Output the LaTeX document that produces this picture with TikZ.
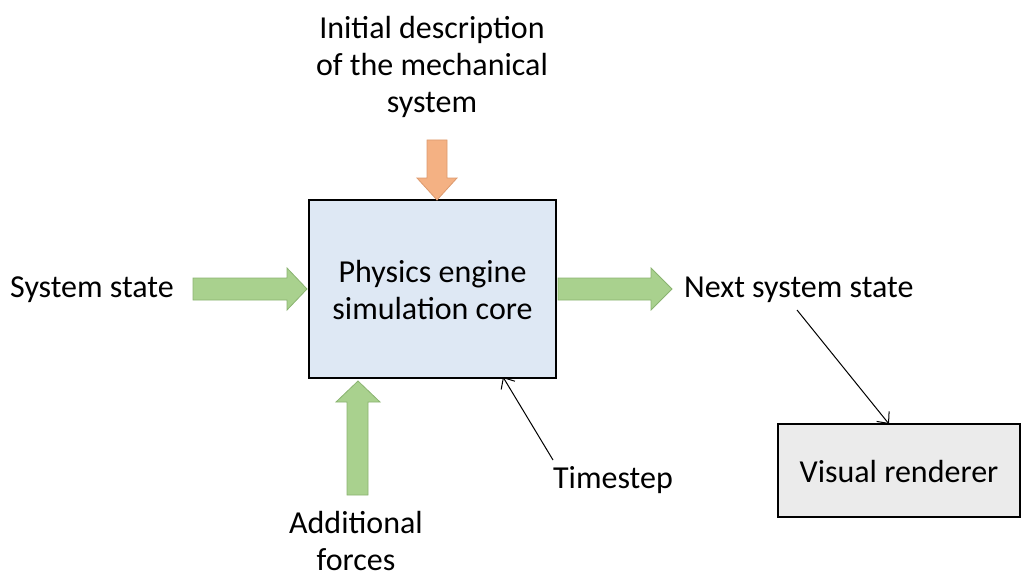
\documentclass[tikz,border=0pt]{standalone}
\usepackage{fontspec}
\setmainfont{Carlito}
\usetikzlibrary{arrows.meta}
\definecolor{boxblue}{HTML}{DEE8F4}
\definecolor{boxgray}{HTML}{EBEBEB}
\definecolor{gfill}{HTML}{A9D18E}
\definecolor{gline}{HTML}{8AB370}
\definecolor{ofill}{HTML}{F4B183}
\definecolor{oline}{HTML}{DC9A6E}
\tikzset{
  lbl/.style={font=\fontsize{32}{37}\selectfont, align=center, inner sep=0pt},
  mainbox/.style={draw=black, line width=1.5pt, fill=boxblue},
  rendbox/.style={draw=black, line width=1.2pt, fill=boxgray},
  garrow/.style={fill=gfill, draw=gline, line width=0.8pt},
  oarrow/.style={fill=ofill, draw=oline, line width=0.8pt},
  thin/.style={draw=black, line width=1pt, -{Straight Barb[length=9pt,width=16pt]}}
}
\begin{document}
\begin{tikzpicture}[x=1pt,y=-1pt]
\useasboundingbox (0,0) rectangle (1025,575);
% boxes
\draw[mainbox] (309,200) rectangle (556,378);
\node[lbl] (core) at (432.5,290) {Physics engine\\simulation core};
\coordinate (coretop) at (437,200);
\draw[rendbox] (778,424) rectangle (1020,517);
\node[lbl] (rend) at (899,472) {Visual renderer};
\coordinate (rendtop) at (889,424);
% block arrows
\draw[oarrow] (427,140) -- (447,140) -- (447,178) -- (457,178) -- (437,200) -- (417,178) -- (427,178) -- cycle;
\draw[garrow] (193,278) -- (287,278) -- (287,268) -- (307,289) -- (287,310) -- (287,300) -- (193,300) -- cycle;
\draw[garrow] (558,278) -- (651,278) -- (651,268) -- (672,289) -- (651,310) -- (651,300) -- (558,300) -- cycle;
\draw[garrow] (347,495) -- (347,402) -- (336,402) -- (358,381) -- (380,402) -- (368,402) -- (368,495) -- cycle;
% labels
\node[lbl] (init) at (432,67) {Initial description\\of the mechanical\\system};
\node[lbl, anchor=west] (sys) at (10,290) {System state};
\node[lbl, anchor=west] (next) at (684,290) {Next system state};
\node[lbl] (ts) at (613,480) {Timestep};
\node[lbl] (add) at (356,541) {Additional\\forces};
% thin arrows
\coordinate (tsstart) at (553,460);
\coordinate (corecorner) at (503,377);
\draw[thin] (tsstart) -- (corecorner);
\coordinate (nextstart) at (797,310);
\draw[thin] (nextstart) -- (rendtop);
\end{tikzpicture}
\end{document}
